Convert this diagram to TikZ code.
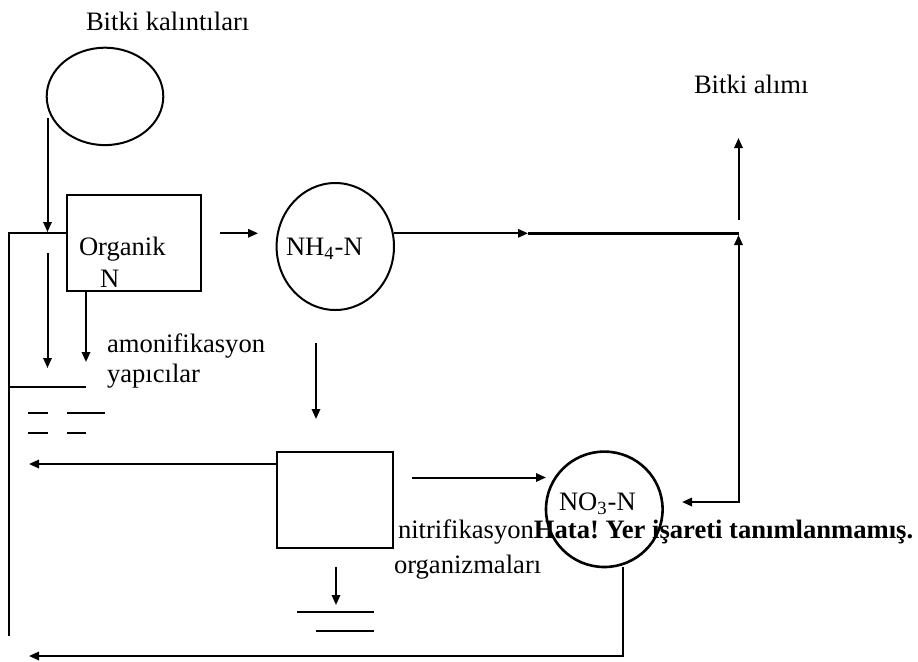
\documentclass[tikz,border=0pt]{standalone}
\usepackage{fontspec}
\setmainfont{Liberation Serif}
\usetikzlibrary{arrows.meta,shapes.geometric}
\begin{document}
\frenchspacing
\begin{tikzpicture}[x=0.5pt,y=-0.5pt,line width=1pt,
  >={Triangle[length=5pt,width=4.2pt]},
  every node/.style={font=\fontsize{13.3}{16}\selectfont},
  txt/.style={anchor=base west,inner sep=0pt},
  oval/.style={ellipse,draw,inner sep=0pt},
  boxnode/.style={rectangle,draw,inner sep=0pt}]
\useasboundingbox (0,0) rectangle (918,661);
% shapes
\node[oval,minimum width=58.3pt,minimum height=48.7pt] (res) at (105,96.4) {};
\node[boxnode,minimum width=67.2pt,minimum height=47.9pt] (org) at (133.8,243) {};
\node[oval,minimum width=58.7pt,minimum height=63.5pt] (nh4) at (335.3,246.5) {};
\node[boxnode,minimum width=58.3pt,minimum height=48.3pt] (nit) at (335,500) {};
\node[oval,line width=1.3pt,minimum width=58.3pt,minimum height=57.7pt] (no3) at (604.3,509.3) {};
% texts
\node[txt] (t1) at (85,30) {Bitki kalıntıları};
\node[txt] (t2) at (693,93) {Bitki alımı};
\node[txt] (t3) at (78,255) {Organik};
\node[txt] (t4) at (99,287) {N};
\node[txt] (t5) at (285,255) {NH\textsubscript{4}-N};
\node[txt] (t6) at (106,352) {amonifikasyon};
\node[txt] (t7) at (106,382) {yapıcılar};
\node[txt] (t8) at (558,510) {NO\textsubscript{3}-N};
\node[txt] (t9) at (397,538) {nitrifikasyon\textbf{Hata! Yer işareti tanımlanmamış.}};
\node[txt] (t10) at (393,573) {organizmaları};
% coordinates
\coordinate (a1) at (47.5,118);
\coordinate (a2) at (47.5,232);
\coordinate (l1) at (66.7,233);
\coordinate (l2) at (9,233);
\coordinate (l3) at (9,636);
\coordinate (b1) at (220,233.3);
\coordinate (b2) at (258,233.3);
\coordinate (c1) at (47.5,253);
\coordinate (c2) at (47.5,368);
\coordinate (d1) at (86,291);
\coordinate (d2) at (86,362);
\coordinate (e1) at (9,387);
\coordinate (e2) at (86,387);
\coordinate (f1) at (394,233.3);
\coordinate (f2) at (528,233.3);
\coordinate (f3) at (739,233.3);
\coordinate (g1) at (738.5,220);
\coordinate (g2) at (738.5,138);
\coordinate (h1) at (738.5,235);
\coordinate (h2) at (738.5,502);
\coordinate (h3) at (682,502);
\coordinate (i1) at (316,343);
\coordinate (i2) at (316,419);
\coordinate (j1) at (276.7,464);
\coordinate (j2) at (29,464);
\coordinate (k1) at (412,477.5);
\coordinate (k2) at (546,477.5);
\coordinate (m1) at (336,567);
\coordinate (m2) at (336,605);
\coordinate (n1) at (623,567);
\coordinate (n2) at (623,656);
\coordinate (n3) at (29,656);
% connectors
\draw[->] (a1) -- (a2);
\draw (l1) -- (l2) -- (l3);
\draw[->] (b1) -- (b2);
\draw[->] (c1) -- (c2);
\draw[->] (d1) -- (d2);
\draw (e1) -- (e2);
\draw (28,413) -- (48,413);
\draw (67,413) -- (105,413);
\draw (28,433) -- (48,433);
\draw (67,433) -- (86,433);
\draw[->] (f1) -- (f2);
\draw[line width=1.5pt] (f2) -- (f3);
\draw[->] (g1) -- (g2);
\draw[<->] (h1) -- (h2) -- (h3);
\draw[->] (i1) -- (i2);
\draw[->] (j1) -- (j2);
\draw[->] (k1) -- (k2);
\draw[->] (m1) -- (m2);
\draw (297,612) -- (374,612);
\draw (316,631) -- (374,631);
\draw[->] (n1) -- (n2) -- (n3);
\end{tikzpicture}
\end{document}
